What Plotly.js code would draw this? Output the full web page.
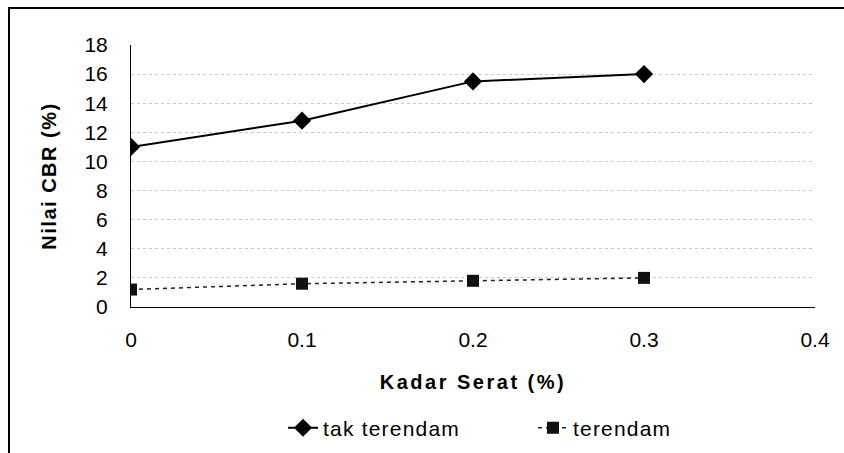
<!DOCTYPE html>
<html><head><meta charset="utf-8">
<script src="https://cdn.plot.ly/plotly-3.0.1.min.js"></script>
<style>
html,body{margin:0;padding:0;background:#fff}
#chart{width:844px;height:453px}
#chart .xtitle{letter-spacing:2.5px}
#chart .ytitle{letter-spacing:1.5px}
#chart .legendtext{letter-spacing:1.2px}
</style>
</head><body><div id="chart"></div>
<script>
const kadarSerat = [0, 0.1, 0.2, 0.3];
const takTerendam = [11.0, 12.8, 15.5, 16.0];
const terendam = [1.2, 1.6, 1.8, 2.0];
const xTicks = [0, 0.1, 0.2, 0.3, 0.4];
const yTicks = [0, 2, 4, 6, 8, 10, 12, 14, 16, 18];

const traces = [
  {x: kadarSerat, y: takTerendam, name: 'tak terendam', type: 'scatter', mode: 'lines+markers',
   line: {color: '#000', width: 2}, marker: {symbol: 'diamond', size: 14, color: '#000'}},
  {x: kadarSerat, y: terendam, name: 'terendam', type: 'scatter', mode: 'lines+markers',
   line: {color: '#222', width: 1.5, dash: '4px,4px'}, marker: {symbol: 'square', size: 12, color: '#111'}}
];

const layout = {
  width: 844, height: 453,
  margin: {l: 131, r: 29, t: 45, b: 146},
  paper_bgcolor: '#fff', plot_bgcolor: '#fff',
  font: {family: 'Liberation Sans, Arial, sans-serif', color: '#000'},
  showlegend: true,
  legend: {orientation: 'h', xref: 'container', yref: 'container',
           x: 283 / 844, xanchor: 'left', y: 0.055, yanchor: 'middle',
           entrywidth: 205, entrywidthmode: 'pixels',
           font: {size: 21, color: '#000'}, bgcolor: 'rgba(0,0,0,0)'},
  xaxis: {range: [0, 0.4], tickvals: xTicks, ticktext: xTicks.map(String),
          showgrid: false, zeroline: false, showline: true, linecolor: '#000', linewidth: 1,
          ticks: '', ticklabelstandoff: 14, tickfont: {size: 21},
          title: {text: '<b>Kadar Serat (%)</b>', font: {size: 20}, standoff: 24}},
  yaxis: {range: [0, 18], tickvals: yTicks, ticktext: yTicks.map(String),
          showgrid: true, gridcolor: '#c8c8c8', griddash: 'dot', gridwidth: 1,
          zeroline: false, showline: true, linecolor: '#000', linewidth: 1,
          ticks: '', ticklabelstandoff: 18, tickfont: {size: 21},
          title: {text: '<b>Nilai CBR (%)</b>', font: {size: 20}, standoff: 22}},
  shapes: [
    {type: 'rect', xref: 'paper', yref: 'paper',
     x0: (9 - 131) / 684, x1: (860 - 131) / 684,
     y0: (307 - 470) / 262, y1: (307 - 8) / 262,
     line: {color: '#000', width: 2}, fillcolor: 'rgba(0,0,0,0)'}
  ]
};

Plotly.newPlot('chart', traces, layout, {displayModeBar: false, staticPlot: true});
</script>
</body></html>
